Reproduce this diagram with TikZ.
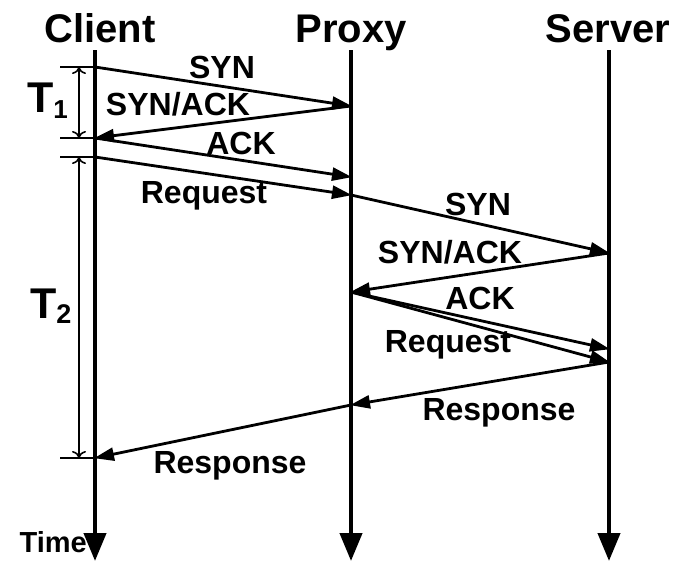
\documentclass[tikz,border=0pt]{standalone}
\usepackage{fontspec}
\setmainfont{Liberation Sans}
\usetikzlibrary{arrows.meta}
\begin{document}
\begin{tikzpicture}[x=1pt,y=-1pt,
  head/.style={font=\fontsize{40}{42}\selectfont\bfseries, inner sep=0pt, anchor=base},
  lbl/.style={font=\fontsize{32}{34}\selectfont\bfseries, inner sep=0pt},
  tlbl/.style={font=\fontsize{43}{45}\selectfont\bfseries, inner sep=0pt, anchor=base west},
  life/.style={line width=4.2pt, -{Triangle[width=22pt,length=28pt]}},
  msg/.style={line width=2.8pt, -{Triangle[width=13pt,length=20pt]}, shorten >=-1pt},
  tick/.style={line width=2pt},
  span/.style={line width=1.6pt, {To[width=14pt,length=7pt]}-{To[width=14pt,length=7pt]}},
]
\useasboundingbox (0,0) rectangle (681,568);

% headers
\node[head] (hc) at (100,42) {Client};
\node[head] (hp) at (351,42) {Proxy};
\node[head] (hs) at (608,42) {Server};

% lifelines
\coordinate (ct) at (95,50);  \coordinate (cb) at (95,561);
\coordinate (pt) at (351,50); \coordinate (pb) at (351,561);
\coordinate (st) at (609,50); \coordinate (sb) at (609,561);
\draw[life] (ct) -- (cb);
\draw[life] (pt) -- (pb);
\draw[life] (st) -- (sb);

% message events
\coordinate (c1) at (95,67);
\coordinate (p1) at (351,106);
\coordinate (c2) at (95,138);
\coordinate (p2) at (351,177);
\coordinate (c3) at (95,157);
\coordinate (p3) at (351,195);
\coordinate (s1) at (609,253);
\coordinate (p4) at (351,292);
\coordinate (s2) at (609,349);
\coordinate (s3) at (609,362);
\coordinate (p5) at (351,405);
\coordinate (c4) at (95,458);

\draw[msg] (c1) -- (p1);
\draw[msg] (p1) -- (c2);
\draw[msg] (c2) -- (p2);
\draw[msg] (c3) -- (p3);
\draw[msg] (p3) -- (s1);
\draw[msg] (s1) -- (p4);
\draw[msg] (p4) -- (s2);
\draw[msg] (p4) -- (s3);
\draw[msg] (s3) -- (p5);
\draw[msg] (p5) -- (c4);

% message labels
\node[lbl] (l1) at (222,67) {SYN};
\node[lbl] (l2) at (178,104) {SYN/ACK};
\node[lbl] (l3) at (241,143) {ACK};
\node[lbl] (l4) at (204,196) {Request};
\node[lbl] (l5) at (478,204) {SYN};
\node[lbl] (l6) at (450,252) {SYN/ACK};
\node[lbl] (l7) at (480,298) {ACK};
\node[lbl] (l8) at (448,345) {Request};
\node[lbl] (l9) at (499,413) {Response};
\node[lbl] (l10) at (230,466) {Response};

% interval markers
\coordinate (t1a) at (60,67);  \coordinate (t1b) at (60,138);
\coordinate (t2a) at (60,157); \coordinate (t2b) at (60,458);
\draw[tick] (t1a) -- (c1);
\draw[tick] (t1b) -- (c2);
\draw[tick] (t2a) -- (c3);
\draw[tick] (t2b) -- (c4);
\coordinate (v1a) at (79,67);  \coordinate (v1b) at (79,138);
\coordinate (v2a) at (79,157); \coordinate (v2b) at (79,458);
\draw[span] (v1a) -- (v1b);
\draw[span] (v2a) -- (v2b);
\node[tlbl] (T1) at (27,112) {T\raisebox{-6pt}{\fontsize{26}{28}\selectfont 1}};
\node[tlbl] (T2) at (30,318) {T\raisebox{-5pt}{\fontsize{27}{29}\selectfont 2}};

\node[font=\fontsize{29}{31}\selectfont\bfseries, inner sep=0pt, anchor=base east] (time) at (87,552) {Time};
\end{tikzpicture}
\end{document}
